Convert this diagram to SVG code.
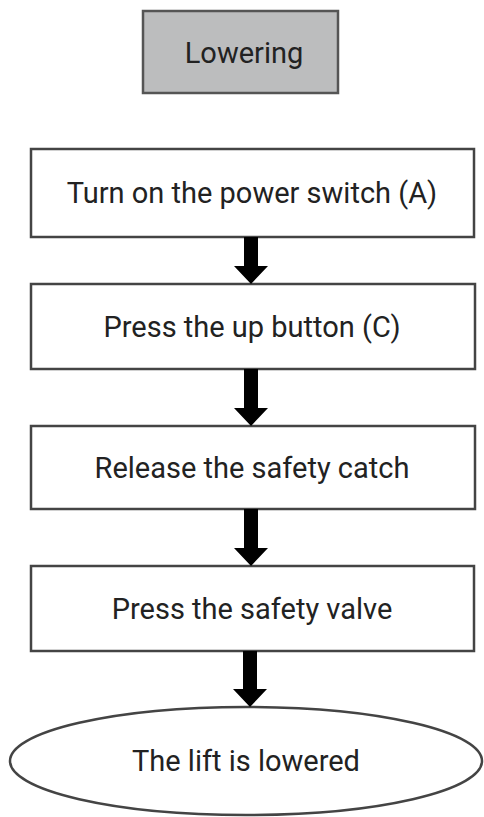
<svg xmlns="http://www.w3.org/2000/svg" width="484" height="817" viewBox="0 0 484 817">
  <style>
    .box { fill: #ffffff; stroke: #444; stroke-width: 2.5; }
    .title { fill: #bcbdbe; stroke: #555; stroke-width: 2.5; }
    .lbl { font-family: Roboto, "Liberation Sans", sans-serif; font-size: 29px; fill: #222; text-anchor: middle; }
    .arrow { fill: #000; }
  </style>
  <rect width="484" height="817" fill="#ffffff"/>

  <g id="title">
    <rect class="title" x="143" y="11" width="195" height="82"/>
    <text class="lbl" x="244" y="63">Lowering</text>
  </g>

  <g id="step1">
    <rect class="box" x="31" y="149" width="443" height="88"/>
    <text class="lbl" x="252" y="203">Turn on the power switch (A)</text>
  </g>

  <g id="step2">
    <rect class="box" x="31" y="284" width="444" height="85"/>
    <text class="lbl" x="252" y="337">Press the up button (C)</text>
  </g>

  <g id="step3">
    <rect class="box" x="31" y="426" width="444" height="83"/>
    <text class="lbl" x="252" y="478">Release the safety catch</text>
  </g>

  <g id="step4">
    <rect class="box" x="31" y="566" width="443" height="85"/>
    <text class="lbl" x="252" y="619">Press the safety valve</text>
  </g>

  <g id="result">
    <ellipse class="box" cx="246" cy="761" rx="236" ry="54"/>
    <text class="lbl" x="246" y="771">The lift is lowered</text>
  </g>

  <!-- block arrows between steps -->
  <g id="connectors">
    <path class="arrow" d="M244 237 H258 V266 H268 L251 284 L234 266 H244 Z"/>
    <path class="arrow" d="M244 369 H258 V408 H268 L251 426 L234 408 H244 Z"/>
    <path class="arrow" d="M244 509 H258 V548 H268 L251 566 L234 548 H244 Z"/>
    <path class="arrow" d="M243 651 H257 V689 H267 L250 707 L233 689 H243 Z"/>
  </g>
</svg>
